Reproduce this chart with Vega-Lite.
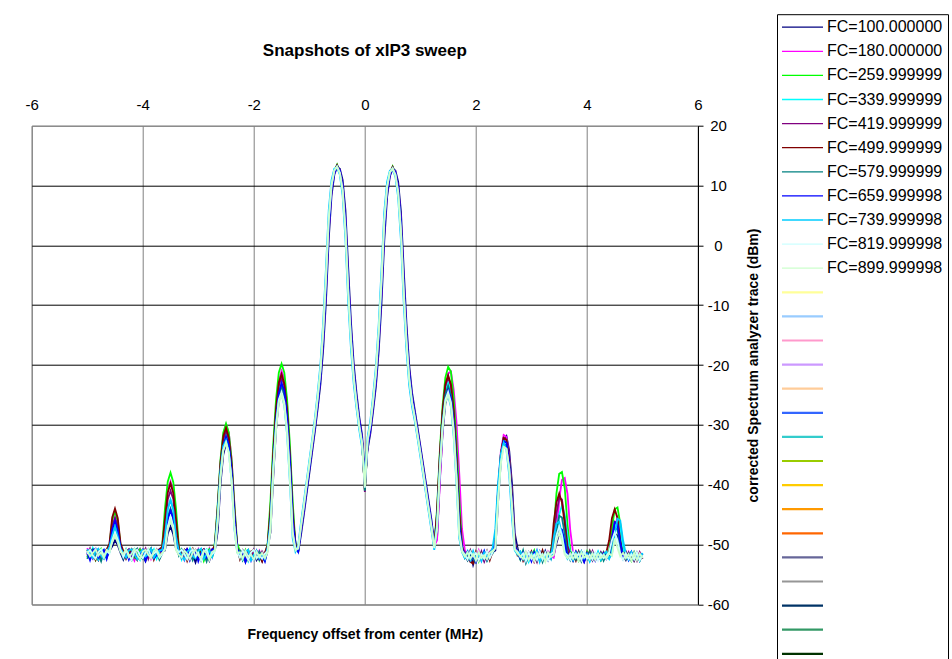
{
"$schema":"https://vega.github.io/schema/vega-lite/v6.json",
"width":666.3,"height":478.6,
"autosize":{"type":"none"},
"padding":{"left":31.7,"top":125.7,"right":254,"bottom":54.7},
"background":"white",
"config":{"view":{"stroke":"#808080","strokeWidth":1},"font":"Liberation Sans","axis":{"labelFont":"Liberation Sans","titleFont":"Liberation Sans","labelColor":"black","titleColor":"black"}},
"title":{"text":"Snapshots of xIP3 sweep","fontSize":17,"fontWeight":"bold","font":"Liberation Sans","color":"black","anchor":"middle","offset":-46.4},
"data":{"values":[
{"x":-5,"a":-51.4,"b":-50.6,"c":-52.1,"d":-51.0,"e":-51.8,"f":-50.9,"g":-52.4,"h":-51.3,"i":-50.8,"j":-51.6,"k":-51.1},
{"x":-4.95,"a":-52.3,"b":-51.7,"c":-50.8,"d":-52.0,"e":-50.7,"f":-51.9,"g":-51.2,"h":-52.6,"i":-51.5,"j":-50.9,"k":-52.0},
{"x":-4.9,"a":-50.9,"b":-52.4,"c":-51.5,"d":-50.6,"e":-52.2,"f":-51.3,"g":-50.8,"h":-51.0,"i":-52.3,"j":-51.8,"k":-51.4},
{"x":-4.85,"a":-51.8,"b":-51.1,"c":-52.6,"d":-51.7,"e":-51.2,"f":-52.5,"g":-52.0,"h":-50.7,"i":-51.1,"j":-52.4,"k":-50.8},
{"x":-4.8,"a":-52.6,"b":-50.8,"c":-51.2,"d":-52.5,"e":-50.9,"f":-51.0,"g":-51.6,"h":-52.2,"i":-50.7,"j":-51.3,"k":-51.9},
{"x":-4.75,"a":-51.0,"b":-52.0,"c":-50.7,"d":-51.3,"e":-52.5,"f":-51.7,"g":-52.8,"h":-51.5,"i":-51.9,"j":-50.8,"k":-51.3},
{"x":-4.7,"a":-51.7,"b":-51.4,"c":-51.9,"d":-50.9,"e":-51.4,"f":-52.3,"g":-51.1,"h":-50.9,"i":-52.4,"j":-51.9,"k":-52.2},
{"x":-4.65,"a":-52.2,"b":-51.0,"c":-51.0,"d":-52.1,"e":-50.8,"f":-50.8,"g":-51.7,"h":-52.4,"i":-51.2,"j":-51.1,"k":-50.9},
{"x":-4.6,"a":-51.1,"b":-50.5,"c":-50.2,"d":-50.7,"e":-50.5,"f":-49.9,"g":-51.3,"h":-50.6,"i":-50.4,"j":-51.5,"k":-51.2},
{"x":-4.55,"a":-50.3,"b":-47.5,"c":-46.0,"d":-48.0,"e":-47.0,"f":-45.5,"g":-48.5,"h":-47.5,"i":-48.5,"j":-49.3,"k":-49.6},
{"x":-4.5,"a":-49.3,"b":-46.0,"c":-44.5,"d":-46.5,"e":-45.5,"f":-44.0,"g":-47.0,"h":-46.0,"i":-47.0,"j":-48.0,"k":-48.5},
{"x":-4.45,"a":-50.1,"b":-47.4,"c":-46.1,"d":-48.1,"e":-46.9,"f":-45.6,"g":-48.4,"h":-47.6,"i":-48.6,"j":-49.2,"k":-49.7},
{"x":-4.4,"a":-51.4,"b":-50.6,"c":-50.1,"d":-50.9,"e":-50.3,"f":-49.8,"g":-51.0,"h":-50.4,"i":-50.7,"j":-50.9,"k":-51.3},
{"x":-4.35,"a":-52.5,"b":-51.6,"c":-51.3,"d":-51.8,"e":-52.0,"f":-51.1,"g":-52.3,"h":-51.9,"i":-51.4,"j":-52.1,"k":-51.6},
{"x":-4.3,"a":-51.2,"b":-52.3,"c":-52.0,"d":-50.8,"e":-51.3,"f":-52.4,"g":-50.9,"h":-51.0,"i":-52.2,"j":-51.0,"k":-50.8},
{"x":-4.25,"a":-50.8,"b":-51.0,"c":-51.4,"d":-52.3,"e":-50.9,"f":-51.5,"g":-51.8,"h":-52.5,"i":-51.0,"j":-51.7,"k":-52.1},
{"x":-4.2,"a":-52.0,"b":-51.8,"c":-50.9,"d":-51.4,"e":-52.3,"f":-50.8,"g":-52.6,"h":-51.3,"i":-50.8,"j":-52.6,"k":-51.5},
{"x":-4.15,"a":-51.6,"b":-52.7,"c":-52.2,"d":-50.7,"e":-51.6,"f":-51.9,"g":-51.2,"h":-50.8,"i":-51.7,"j":-51.2,"k":-50.7},
{"x":-4.1,"a":-52.4,"b":-51.2,"c":-51.6,"d":-51.9,"e":-50.8,"f":-52.6,"g":-50.7,"h":-52.1,"i":-52.5,"j":-50.9,"k":-51.8},
{"x":-4.05,"a":-51.0,"b":-50.7,"c":-50.8,"d":-52.6,"e":-52.0,"f":-51.3,"g":-51.9,"h":-51.6,"i":-51.3,"j":-51.8,"k":-52.4},
{"x":-4,"a":-51.9,"b":-52.1,"c":-51.8,"d":-51.2,"e":-51.5,"f":-50.9,"g":-52.4,"h":-50.9,"i":-50.9,"j":-52.3,"k":-51.2},
{"x":-3.95,"a":-52.8,"b":-51.5,"c":-52.5,"d":-50.9,"e":-50.7,"f":-52.2,"g":-51.4,"h":-52.7,"i":-52.0,"j":-51.4,"k":-50.9},
{"x":-3.9,"a":-51.3,"b":-50.9,"c":-51.1,"d":-52.1,"e":-52.4,"f":-51.6,"g":-50.8,"h":-51.5,"i":-51.6,"j":-50.8,"k":-51.7},
{"x":-3.85,"a":-50.7,"b":-52.4,"c":-50.7,"d":-51.6,"e":-51.1,"f":-50.7,"g":-52.1,"h":-51.0,"i":-50.7,"j":-52.0,"k":-52.3},
{"x":-3.8,"a":-52.1,"b":-51.3,"c":-52.0,"d":-50.8,"e":-51.9,"f":-52.5,"g":-51.6,"h":-52.3,"i":-52.2,"j":-51.5,"k":-51.1},
{"x":-3.75,"a":-51.5,"b":-50.8,"c":-51.4,"d":-52.4,"e":-50.9,"f":-51.2,"g":-51.0,"h":-51.8,"i":-51.4,"j":-51.1,"k":-50.8},
{"x":-3.7,"a":-52.3,"b":-51.9,"c":-52.3,"d":-51.3,"e":-52.2,"f":-50.8,"g":-52.5,"h":-50.9,"i":-51.0,"j":-52.2,"k":-51.9},
{"x":-3.65,"a":-51.3,"b":-50.6,"c":-50.2,"d":-51.0,"e":-50.8,"f":-50.4,"g":-51.5,"h":-51.2,"i":-50.9,"j":-51.6,"k":-51.4},
{"x":-3.6,"a":-51.0,"b":-45.5,"c":-44.0,"d":-48.5,"e":-47.0,"f":-45.8,"g":-49.6,"h":-49.8,"i":-48.6,"j":-50.6,"k":-50.9},
{"x":-3.55,"a":-48.2,"b":-41.0,"c":-39.5,"d":-44.0,"e":-42.5,"f":-41.3,"g":-45.5,"h":-45.8,"i":-44.1,"j":-47.0,"k":-47.5},
{"x":-3.5,"a":-47.0,"b":-39.5,"c":-38.0,"d":-42.5,"e":-41.0,"f":-39.8,"g":-44.0,"h":-44.3,"i":-42.6,"j":-45.5,"k":-46.0},
{"x":-3.45,"a":-48.3,"b":-41.0,"c":-39.6,"d":-44.1,"e":-42.4,"f":-41.4,"g":-45.6,"h":-45.7,"i":-44.2,"j":-46.9,"k":-47.4},
{"x":-3.4,"a":-50.8,"b":-45.6,"c":-44.1,"d":-48.4,"e":-47.1,"f":-45.9,"g":-49.7,"h":-49.9,"i":-48.7,"j":-50.7,"k":-51.0},
{"x":-3.35,"a":-51.6,"b":-50.8,"c":-50.4,"d":-51.2,"e":-50.9,"f":-50.6,"g":-51.8,"h":-51.4,"i":-51.1,"j":-51.3,"k":-51.7},
{"x":-3.3,"a":-52.0,"b":-51.4,"c":-51.9,"d":-52.5,"e":-51.3,"f":-52.1,"g":-50.8,"h":-52.2,"i":-51.8,"j":-50.9,"k":-52.2},
{"x":-3.25,"a":-51.1,"b":-52.6,"c":-51.0,"d":-51.0,"e":-52.4,"f":-51.0,"g":-51.7,"h":-51.1,"i":-52.6,"j":-51.6,"k":-51.0},
{"x":-3.2,"a":-50.8,"b":-51.1,"c":-52.4,"d":-51.8,"e":-50.8,"f":-52.7,"g":-52.3,"h":-50.8,"i":-51.2,"j":-52.5,"k":-51.6},
{"x":-3.15,"a":-52.5,"b":-50.9,"c":-51.3,"d":-50.7,"e":-51.7,"f":-51.4,"g":-51.1,"h":-52.6,"i":-50.8,"j":-51.3,"k":-52.5},
{"x":-3.1,"a":-51.7,"b":-52.2,"c":-50.8,"d":-52.2,"e":-52.1,"f":-50.7,"g":-52.6,"h":-51.4,"i":-51.9,"j":-50.8,"k":-51.3},
{"x":-3.05,"a":-53.0,"b":-51.7,"c":-52.1,"d":-51.5,"e":-50.9,"f":-51.8,"g":-51.4,"h":-51.0,"i":-52.3,"j":-52.0,"k":-50.9},
{"x":-3,"a":-51.4,"b":-50.8,"c":-51.6,"d":-50.9,"e":-51.4,"f":-52.3,"g":-50.9,"h":-52.8,"i":-51.1,"j":-51.4,"k":-51.8},
{"x":-2.95,"a":-50.9,"b":-52.5,"c":-50.9,"d":-52.6,"e":-52.6,"f":-51.1,"g":-52.0,"h":-51.5,"i":-50.7,"j":-52.7,"k":-52.2},
{"x":-2.9,"a":-52.2,"b":-51.3,"c":-52.7,"d":-51.2,"e":-51.0,"f":-50.8,"g":-51.5,"h":-50.9,"i":-52.4,"j":-51.1,"k":-51.0},
{"x":-2.85,"a":-51.5,"b":-51.9,"c":-51.4,"d":-50.8,"e":-52.2,"f":-52.5,"g":-52.8,"h":-52.2,"i":-51.6,"j":-50.9,"k":-51.5},
{"x":-2.8,"a":-52.7,"b":-50.7,"c":-50.8,"d":-52.3,"e":-51.5,"f":-51.6,"g":-51.2,"h":-51.7,"i":-51.0,"j":-52.1,"k":-52.6},
{"x":-2.75,"a":-51.2,"b":-52.0,"c":-52.2,"d":-51.4,"e":-50.8,"f":-51.0,"g":-51.9,"h":-50.8,"i":-52.1,"j":-51.6,"k":-51.2},
{"x":-2.7,"a":-51.0,"b":-50.0,"c":-49.6,"d":-50.5,"e":-50.4,"f":-50.1,"g":-50.8,"h":-50.9,"i":-50.6,"j":-51.2,"k":-51.0},
{"x":-2.65,"a":-47.8,"b":-43.9,"c":-43.3,"d":-44.6,"e":-44.5,"f":-43.8,"g":-45.5,"h":-45.9,"i":-44.7,"j":-46.1,"k":-46.1},
{"x":-2.6,"a":-39.9,"b":-36.3,"c":-35.8,"d":-37.2,"e":-37.0,"f":-36.4,"g":-38.0,"h":-38.3,"i":-37.6,"j":-38.7,"k":-38.7},
{"x":-2.55,"a":-35.0,"b":-31.7,"c":-31.3,"d":-32.8,"e":-32.5,"f":-31.9,"g":-33.5,"h":-33.7,"i":-33.6,"j":-34.3,"k":-34.3},
{"x":-2.5,"a":-33.1,"b":-30.0,"c":-29.8,"d":-31.5,"e":-31.0,"f":-30.5,"g":-32.0,"h":-32.0,"i":-32.6,"j":-33.0,"k":-33.0},
{"x":-2.45,"a":-34.1,"b":-31.3,"c":-31.3,"d":-33.2,"e":-32.5,"f":-32.1,"g":-33.5,"h":-33.3,"i":-34.5,"j":-34.7,"k":-34.7},
{"x":-2.4,"a":-38.1,"b":-35.7,"c":-35.8,"d":-37.8,"e":-37.0,"f":-36.6,"g":-38.0,"h":-37.7,"i":-39.4,"j":-39.3,"k":-39.3},
{"x":-2.35,"a":-45.2,"b":-43.1,"c":-43.3,"d":-45.4,"e":-44.5,"f":-44.2,"g":-45.5,"h":-45.1,"i":-47.3,"j":-46.9,"k":-46.9},
{"x":-2.3,"a":-50.2,"b":-50.5,"c":-49.8,"d":-50.9,"e":-50.6,"f":-50.4,"g":-51.2,"h":-50.6,"i":-51.3,"j":-51.1,"k":-51.4},
{"x":-2.25,"a":-52.1,"b":-51.6,"c":-51.2,"d":-52.3,"e":-51.9,"f":-52.4,"g":-51.0,"h":-52.0,"i":-51.5,"j":-52.2,"k":-51.3},
{"x":-2.2,"a":-51.3,"b":-52.4,"c":-52.5,"d":-51.0,"e":-51.1,"f":-51.0,"g":-52.6,"h":-51.2,"i":-52.5,"j":-51.0,"k":-52.4},
{"x":-2.15,"a":-52.9,"b":-51.0,"c":-51.0,"d":-51.7,"e":-52.6,"f":-51.8,"g":-51.5,"h":-52.9,"i":-51.2,"j":-51.7,"k":-51.1},
{"x":-2.1,"a":-51.6,"b":-51.8,"c":-52.3,"d":-52.8,"e":-51.4,"f":-52.6,"g":-50.9,"h":-51.5,"i":-50.9,"j":-52.6,"k":-52.0},
{"x":-2.05,"a":-52.4,"b":-52.7,"c":-51.6,"d":-51.3,"e":-52.2,"f":-51.2,"g":-52.3,"h":-51.9,"i":-52.7,"j":-51.3,"k":-51.7},
{"x":-2,"a":-51.0,"b":-51.3,"c":-52.0,"d":-52.1,"e":-50.9,"f":-50.9,"g":-51.7,"h":-52.6,"i":-51.8,"j":-50.9,"k":-52.6},
{"x":-1.95,"a":-52.6,"b":-52.2,"c":-51.2,"d":-51.1,"e":-51.8,"f":-52.3,"g":-52.4,"h":-51.1,"i":-51.1,"j":-52.3,"k":-51.2},
{"x":-1.9,"a":-51.9,"b":-51.1,"c":-52.6,"d":-52.5,"e":-52.5,"f":-51.6,"g":-51.2,"h":-52.4,"i":-52.3,"j":-51.8,"k":-52.1},
{"x":-1.85,"a":-52.8,"b":-52.5,"c":-51.4,"d":-51.6,"e":-51.2,"f":-52.8,"g":-52.0,"h":-51.7,"i":-51.6,"j":-52.4,"k":-51.4},
{"x":-1.8,"a":-51.4,"b":-51.6,"c":-52.1,"d":-52.2,"e":-52.0,"f":-51.4,"g":-52.7,"h":-52.8,"i":-52.4,"j":-51.5,"k":-52.3},
{"x":-1.75,"a":-50.6,"b":-50.0,"c":-49.7,"d":-50.5,"e":-50.3,"f":-50.1,"g":-51.0,"h":-50.8,"i":-50.4,"j":-51.1,"k":-51.3},
{"x":-1.7,"a":-48.0,"b":-44.0,"c":-42.8,"d":-45.6,"e":-45.0,"f":-44.3,"g":-46.5,"h":-46.3,"i":-46.5,"j":-47.2,"k":-47.6},
{"x":-1.65,"a":-38.8,"b":-34.9,"c":-33.3,"d":-36.1,"e":-35.5,"f":-34.8,"g":-37.0,"h":-36.9,"i":-37.0,"j":-37.6,"k":-38.1},
{"x":-1.6,"a":-30.9,"b":-27.3,"c":-25.8,"d":-28.8,"e":-28.0,"f":-27.4,"g":-29.5,"h":-29.3,"i":-29.9,"j":-30.3,"k":-30.8},
{"x":-1.55,"a":-26.0,"b":-22.7,"c":-21.3,"d":-24.3,"e":-23.5,"f":-22.9,"g":-25.0,"h":-24.7,"i":-25.9,"j":-25.8,"k":-26.3},
{"x":-1.5,"a":-24.1,"b":-21.0,"c":-19.8,"d":-23.0,"e":-22.0,"f":-21.5,"g":-23.5,"h":-23.0,"i":-24.9,"j":-24.5,"k":-25.0},
{"x":-1.45,"a":-25.1,"b":-22.3,"c":-21.3,"d":-24.7,"e":-23.5,"f":-23.1,"g":-25.0,"h":-24.3,"i":-26.8,"j":-26.2,"k":-26.7},
{"x":-1.4,"a":-29.1,"b":-26.7,"c":-25.8,"d":-29.2,"e":-28.0,"f":-27.6,"g":-29.5,"h":-28.7,"i":-31.7,"j":-30.7,"k":-31.2},
{"x":-1.35,"a":-36.2,"b":-34.1,"c":-33.3,"d":-36.9,"e":-35.5,"f":-35.2,"g":-37.0,"h":-36.1,"i":-39.6,"j":-38.4,"k":-38.9},
{"x":-1.3,"a":-45.6,"b":-43.6,"c":-42.8,"d":-46.4,"e":-45.0,"f":-44.7,"g":-46.5,"h":-45.7,"i":-49.0,"j":-47.8,"k":-48.2},
{"x":-1.25,"a":-49.6,"b":-50.2,"c":-50.0,"d":-50.8,"e":-50.4,"f":-50.1,"g":-50.9,"h":-50.3,"i":-51.2,"j":-50.7,"k":-51.0},
{"x":-1.2,"a":-51.3,"b":-50.9,"c":-50.6,"d":-50.8,"e":-51.0,"f":-50.7,"g":-51.1,"h":-51.2,"i":-50.2,"j":-50.7,"k":-50.6},
{"x":-1.15,"a":-48.4,"b":-47.7,"c":-47.3,"d":-47.0,"e":-47.2,"f":-47.1,"g":-47.4,"h":-47.6,"i":-46.3,"j":-46.9,"k":-47.0},
{"x":-1.1,"a":-45.1,"b":-44.4,"c":-44.0,"d":-43.6,"e":-44.1,"f":-43.8,"g":-43.9,"h":-44.3,"i":-42.9,"j":-43.7,"k":-43.6},
{"x":-1.05,"a":-41.6,"b":-40.8,"c":-40.4,"d":-40.2,"e":-40.5,"f":-40.3,"g":-40.6,"h":-40.9,"i":-39.5,"j":-40.1,"k":-40.2},
{"x":-1,"a":-38.1,"b":-37.3,"c":-36.9,"d":-36.6,"e":-37.0,"f":-36.8,"g":-37.1,"h":-37.4,"i":-36.0,"j":-36.7,"k":-36.6},
{"x":-0.95,"a":-34.6,"b":-33.9,"c":-33.4,"d":-33.2,"e":-33.5,"f":-33.3,"g":-33.6,"h":-33.8,"i":-32.5,"j":-33.1,"k":-33.2},
{"x":-0.9,"a":-31.1,"b":-30.4,"c":-29.9,"d":-29.6,"e":-30.0,"f":-29.8,"g":-30.1,"h":-30.4,"i":-28.9,"j":-29.6,"k":-29.7},
{"x":-0.85,"a":-27.3,"b":-26.4,"c":-25.9,"d":-25.6,"e":-26.0,"f":-25.8,"g":-26.1,"h":-26.5,"i":-24.7,"j":-25.6,"k":-25.5},
{"x":-0.8,"a":-23.2,"b":-22.0,"c":-21.4,"d":-21.0,"e":-21.5,"f":-21.2,"g":-21.6,"h":-22.1,"i":-19.9,"j":-20.9,"k":-21.0},
{"x":-0.75,"a":-17.3,"b":-15.8,"c":-14.9,"d":-14.3,"e":-15.0,"f":-14.6,"g":-15.1,"h":-15.7,"i":-12.8,"j":-14.2,"k":-14.3},
{"x":-0.7,"a":-9.3,"b":-7.4,"c":-6.4,"d":-5.6,"e":-6.5,"f":-6.0,"g":-6.6,"h":-7.4,"i":-3.8,"j":-5.6,"k":-5.5},
{"x":-0.65,"a":1.1,"b":2.7,"c":3.6,"d":4.3,"e":3.5,"f":3.9,"g":3.4,"h":2.7,"i":5.9,"j":4.3,"k":4.4},
{"x":-0.6,"a":8.3,"b":9.2,"c":9.7,"d":10.0,"e":9.6,"f":9.8,"g":9.5,"h":9.2,"i":10.9,"j":10.0,"k":10.1},
{"x":-0.55,"a":11.8,"b":12.1,"c":12.4,"d":12.5,"e":12.3,"f":12.4,"g":12.3,"h":12.1,"i":12.8,"j":12.5,"k":12.5},
{"x":-0.5,"a":13.1,"b":13.3,"c":13.5,"d":13.2,"e":13.3,"f":13.4,"g":13.2,"h":13.2,"i":13.0,"j":13.2,"k":13.1},
{"x":-0.45,"a":12.8,"b":12.5,"c":12.3,"d":12.1,"e":12.3,"f":12.2,"g":12.3,"h":12.5,"i":11.8,"j":12.1,"k":12.1},
{"x":-0.4,"a":10.9,"b":10.0,"c":9.6,"d":9.2,"e":9.6,"f":9.4,"g":9.6,"h":10.0,"i":8.3,"j":9.2,"k":9.2},
{"x":-0.35,"a":5.9,"b":4.3,"c":3.5,"d":2.7,"e":3.5,"f":3.1,"g":3.5,"h":4.3,"i":1.1,"j":2.7,"k":2.7},
{"x":-0.3,"a":-3.7,"b":-5.6,"c":-6.5,"d":-7.4,"e":-6.5,"f":-7.0,"g":-6.5,"h":-5.6,"i":-9.3,"j":-7.4,"k":-7.4},
{"x":-0.25,"a":-12.8,"b":-14.3,"c":-15.0,"d":-15.8,"e":-15.0,"f":-15.4,"g":-15.0,"h":-14.3,"i":-17.3,"j":-15.8,"k":-15.8},
{"x":-0.2,"a":-19.9,"b":-21.0,"c":-21.5,"d":-22.1,"e":-21.5,"f":-21.8,"g":-21.5,"h":-21.0,"i":-23.2,"j":-22.0,"k":-22.1},
{"x":-0.15,"a":-24.7,"b":-25.6,"c":-26.0,"d":-26.4,"e":-26.0,"f":-26.2,"g":-26.0,"h":-25.6,"i":-27.3,"j":-26.4,"k":-26.4},
{"x":-0.1,"a":-28.7,"b":-29.4,"c":-29.8,"d":-30.2,"e":-29.8,"f":-30.0,"g":-29.8,"h":-29.4,"i":-30.9,"j":-30.2,"k":-30.2},
{"x":-0.05,"a":-31.7,"b":-32.4,"c":-32.7,"d":-33.1,"e":-32.7,"f":-32.9,"g":-32.7,"h":-32.4,"i":-33.8,"j":-33.1,"k":-33.0},
{"x":0,"a":-38.5,"b":-40.0,"c":-41.0,"d":-40.5,"e":-41.2,"f":-40.8,"g":-41.0,"h":-40.0,"i":-38.8,"j":-40.5,"k":-40.3},
{"x":0.05,"a":-34.1,"b":-33.4,"c":-33.0,"d":-32.7,"e":-33.0,"f":-32.8,"g":-33.0,"h":-33.4,"i":-32.0,"j":-32.7,"k":-32.6},
{"x":0.1,"a":-31.4,"b":-30.7,"c":-30.3,"d":-29.9,"e":-30.3,"f":-30.1,"g":-30.3,"h":-30.7,"i":-29.2,"j":-29.9,"k":-29.9},
{"x":0.15,"a":-27.6,"b":-26.7,"c":-26.3,"d":-25.9,"e":-26.3,"f":-26.1,"g":-26.3,"h":-26.7,"i":-25.0,"j":-25.9,"k":-25.9},
{"x":0.2,"a":-23.5,"b":-22.4,"c":-21.8,"d":-21.3,"e":-21.8,"f":-21.5,"g":-21.8,"h":-22.4,"i":-20.2,"j":-21.3,"k":-21.2},
{"x":0.25,"a":-17.6,"b":-16.1,"c":-15.3,"d":-14.6,"e":-15.3,"f":-14.9,"g":-15.3,"h":-16.0,"i":-13.1,"j":-14.5,"k":-14.6},
{"x":0.3,"a":-9.6,"b":-7.7,"c":-6.8,"d":-5.9,"e":-6.8,"f":-6.3,"g":-6.8,"h":-7.7,"i":-4.0,"j":-5.9,"k":-5.9},
{"x":0.35,"a":0.8,"b":2.4,"c":3.2,"d":4.0,"e":3.2,"f":3.6,"g":3.2,"h":2.4,"i":5.6,"j":4.0,"k":4.0},
{"x":0.4,"a":8.0,"b":8.9,"c":9.3,"d":9.7,"e":9.3,"f":9.5,"g":9.3,"h":8.9,"i":10.6,"j":9.7,"k":9.7},
{"x":0.45,"a":11.5,"b":11.8,"c":12.0,"d":12.2,"e":12.0,"f":12.1,"g":12.0,"h":11.8,"i":12.5,"j":12.2,"k":12.2},
{"x":0.5,"a":12.8,"b":13.0,"c":13.2,"d":12.9,"e":13.0,"f":13.1,"g":12.9,"h":12.9,"i":12.7,"j":12.9,"k":12.8},
{"x":0.55,"a":12.5,"b":12.2,"c":12.0,"d":11.8,"e":12.0,"f":11.9,"g":12.0,"h":12.2,"i":11.5,"j":11.8,"k":11.8},
{"x":0.6,"a":10.6,"b":9.7,"c":9.3,"d":8.9,"e":9.3,"f":9.1,"g":9.3,"h":9.7,"i":8.0,"j":8.9,"k":8.9},
{"x":0.65,"a":5.6,"b":4.0,"c":3.2,"d":2.4,"e":3.2,"f":2.8,"g":3.2,"h":4.0,"i":0.8,"j":2.4,"k":2.4},
{"x":0.7,"a":-4.0,"b":-5.9,"c":-6.8,"d":-7.7,"e":-6.8,"f":-7.3,"g":-6.8,"h":-5.9,"i":-9.6,"j":-7.7,"k":-7.7},
{"x":0.75,"a":-13.1,"b":-14.6,"c":-15.3,"d":-16.1,"e":-15.3,"f":-15.7,"g":-15.3,"h":-14.6,"i":-17.6,"j":-16.1,"k":-16.0},
{"x":0.8,"a":-20.2,"b":-21.3,"c":-21.8,"d":-22.4,"e":-21.8,"f":-22.1,"g":-21.8,"h":-21.3,"i":-23.5,"j":-22.4,"k":-22.3},
{"x":0.85,"a":-24.6,"b":-25.4,"c":-25.8,"d":-26.2,"e":-25.8,"f":-26.0,"g":-25.8,"h":-25.4,"i":-27.0,"j":-26.2,"k":-26.2},
{"x":0.9,"a":-27.6,"b":-28.2,"c":-28.5,"d":-28.8,"e":-28.5,"f":-28.7,"g":-28.5,"h":-28.2,"i":-29.4,"j":-28.8,"k":-28.8},
{"x":0.95,"a":-30.5,"b":-31.1,"c":-31.4,"d":-31.7,"e":-31.4,"f":-31.6,"g":-31.4,"h":-31.1,"i":-32.3,"j":-31.7,"k":-31.7},
{"x":1,"a":-33.5,"b":-34.1,"c":-34.4,"d":-34.7,"e":-34.4,"f":-34.6,"g":-34.4,"h":-34.1,"i":-35.3,"j":-34.7,"k":-34.7},
{"x":1.05,"a":-36.6,"b":-37.2,"c":-37.5,"d":-37.8,"e":-37.5,"f":-37.7,"g":-37.5,"h":-37.2,"i":-38.4,"j":-37.8,"k":-37.8},
{"x":1.1,"a":-39.7,"b":-40.3,"c":-40.6,"d":-40.9,"e":-40.6,"f":-40.8,"g":-40.6,"h":-40.3,"i":-41.5,"j":-40.9,"k":-40.9},
{"x":1.15,"a":-42.8,"b":-43.4,"c":-43.7,"d":-44.0,"e":-43.7,"f":-43.9,"g":-43.7,"h":-43.4,"i":-44.6,"j":-44.0,"k":-44.0},
{"x":1.2,"a":-45.9,"b":-46.5,"c":-46.8,"d":-47.1,"e":-46.8,"f":-47.0,"g":-46.8,"h":-46.5,"i":-47.7,"j":-47.1,"k":-47.1},
{"x":1.25,"a":-49.8,"b":-50.2,"c":-50.4,"d":-50.6,"e":-50.3,"f":-50.5,"g":-50.4,"h":-50.1,"i":-50.9,"j":-50.6,"k":-50.5},
{"x":1.3,"a":-49.0,"b":-49.3,"c":-44.1,"d":-46.0,"e":-45.0,"f":-44.7,"g":-46.5,"h":-47.7,"i":-46.6,"j":-47.1,"k":-47.6},
{"x":1.35,"a":-39.3,"b":-39.8,"c":-34.5,"d":-36.1,"e":-35.5,"f":-35.2,"g":-37.0,"h":-38.1,"i":-37.2,"j":-37.6,"k":-38.1},
{"x":1.4,"a":-31.4,"b":-31.0,"c":-26.8,"d":-28.7,"e":-28.0,"f":-27.7,"g":-29.5,"h":-30.5,"i":-30.1,"j":-30.2,"k":-30.7},
{"x":1.45,"a":-26.5,"b":-24.8,"c":-22.1,"d":-24.3,"e":-23.5,"f":-23.2,"g":-25.0,"h":-25.9,"i":-26.0,"j":-25.8,"k":-26.3},
{"x":1.5,"a":-24.6,"b":-21.4,"c":-20.3,"d":-23.0,"e":-22.0,"f":-21.7,"g":-23.5,"h":-24.2,"i":-25.1,"j":-24.5,"k":-25.0},
{"x":1.55,"a":-25.5,"b":-21.1,"c":-21.1,"d":-24.7,"e":-23.5,"f":-23.2,"g":-25.0,"h":-25.5,"i":-27.0,"j":-26.2,"k":-26.7},
{"x":1.6,"a":-29.6,"b":-24.1,"c":-25.6,"d":-29.3,"e":-28.0,"f":-27.7,"g":-29.5,"h":-29.9,"i":-31.9,"j":-30.8,"k":-31.3},
{"x":1.65,"a":-36.7,"b":-29.5,"c":-32.9,"d":-36.9,"e":-35.5,"f":-35.2,"g":-37.0,"h":-37.3,"i":-39.8,"j":-38.4,"k":-38.9},
{"x":1.7,"a":-46.1,"b":-38.1,"c":-42.3,"d":-46.4,"e":-45.0,"f":-44.7,"g":-46.5,"h":-46.7,"i":-49.0,"j":-47.9,"k":-48.4},
{"x":1.75,"a":-50.0,"b":-47.4,"c":-50.3,"d":-50.9,"e":-50.6,"f":-50.4,"g":-51.0,"h":-50.7,"i":-51.3,"j":-51.0,"k":-51.2},
{"x":1.8,"a":-51.8,"b":-50.9,"c":-51.6,"d":-52.0,"e":-51.3,"f":-52.2,"g":-51.5,"h":-51.9,"i":-52.3,"j":-51.7,"k":-52.0},
{"x":1.85,"a":-52.6,"b":-51.8,"c":-52.4,"d":-51.1,"e":-52.5,"f":-51.4,"g":-52.6,"h":-51.2,"i":-51.4,"j":-52.5,"k":-51.3},
{"x":1.9,"a":-51.3,"b":-52.5,"c":-51.1,"d":-52.7,"e":-51.0,"f":-52.9,"g":-51.2,"h":-52.6,"i":-52.6,"j":-51.2,"k":-52.4},
{"x":1.95,"a":-53.4,"b":-51.4,"c":-52.2,"d":-51.6,"e":-52.3,"f":-53.2,"g":-52.4,"h":-51.8,"i":-51.1,"j":-52.0,"k":-51.6},
{"x":2,"a":-51.9,"b":-52.2,"c":-51.5,"d":-52.3,"e":-51.7,"f":-51.3,"g":-53.0,"h":-52.9,"i":-52.4,"j":-51.4,"k":-52.7},
{"x":2.05,"a":-52.4,"b":-51.0,"c":-52.8,"d":-51.4,"e":-52.6,"f":-52.6,"g":-51.7,"h":-51.5,"i":-51.7,"j":-52.7,"k":-51.2},
{"x":2.1,"a":-51.5,"b":-52.7,"c":-51.3,"d":-52.5,"e":-51.2,"f":-51.5,"g":-52.2,"h":-52.4,"i":-52.8,"j":-51.6,"k":-52.3},
{"x":2.15,"a":-52.7,"b":-51.6,"c":-52.0,"d":-51.2,"e":-52.8,"f":-52.4,"g":-51.3,"h":-51.1,"i":-51.3,"j":-52.4,"k":-51.8},
{"x":2.2,"a":-51.2,"b":-52.3,"c":-52.6,"d":-52.4,"e":-51.5,"f":-51.1,"g":-52.7,"h":-52.5,"i":-52.0,"j":-51.1,"k":-52.5},
{"x":2.25,"a":-52.3,"b":-51.2,"c":-51.4,"d":-51.7,"e":-52.2,"f":-52.6,"g":-51.6,"h":-51.6,"i":-51.6,"j":-52.3,"k":-51.4},
{"x":2.3,"a":-51.3,"b":-50.8,"c":-50.9,"d":-51.0,"e":-50.7,"f":-51.2,"g":-51.5,"h":-50.9,"i":-50.6,"j":-51.3,"k":-51.1},
{"x":2.35,"a":-51.0,"b":-48.8,"c":-49.3,"d":-49.8,"e":-49.3,"f":-49.3,"g":-50.3,"h":-49.8,"i":-47.4,"j":-50.6,"k":-50.6},
{"x":2.4,"a":-42.8,"b":-40.5,"c":-41.0,"d":-41.5,"e":-41.0,"f":-41.0,"g":-42.0,"h":-41.5,"i":-39.6,"j":-42.5,"k":-42.5},
{"x":2.45,"a":-36.1,"b":-34.4,"c":-34.9,"d":-35.4,"e":-34.9,"f":-34.9,"g":-35.9,"h":-35.4,"i":-34.8,"j":-36.4,"k":-36.4},
{"x":2.5,"a":-32.5,"b":-31.7,"c":-32.2,"d":-32.7,"e":-32.2,"f":-32.2,"g":-33.2,"h":-32.7,"i":-33.0,"j":-33.7,"k":-33.7},
{"x":2.55,"a":-31.9,"b":-32.0,"c":-32.5,"d":-33.0,"e":-32.5,"f":-32.5,"g":-33.5,"h":-33.0,"i":-34.2,"j":-34.0,"k":-34.0},
{"x":2.6,"a":-34.3,"b":-35.3,"c":-35.8,"d":-36.3,"e":-35.8,"f":-35.8,"g":-36.8,"h":-36.3,"i":-38.4,"j":-37.3,"k":-37.3},
{"x":2.65,"a":-39.8,"b":-41.7,"c":-42.2,"d":-42.7,"e":-42.2,"f":-42.2,"g":-43.2,"h":-42.7,"i":-45.6,"j":-43.7,"k":-43.7},
{"x":2.7,"a":-48.1,"b":-49.5,"c":-49.8,"d":-50.3,"e":-49.8,"f":-49.8,"g":-50.6,"h":-50.3,"i":-51.0,"j":-50.8,"k":-50.8},
{"x":2.75,"a":-50.6,"b":-51.4,"c":-51.0,"d":-51.6,"e":-51.2,"f":-51.8,"g":-51.3,"h":-51.1,"i":-51.7,"j":-51.2,"k":-51.5},
{"x":2.8,"a":-52.2,"b":-51.9,"c":-52.4,"d":-51.2,"e":-52.0,"f":-51.3,"g":-52.5,"h":-52.3,"i":-51.2,"j":-52.1,"k":-51.9},
{"x":2.85,"a":-51.4,"b":-52.6,"c":-51.2,"d":-52.5,"e":-51.4,"f":-52.7,"g":-51.0,"h":-51.4,"i":-52.5,"j":-51.5,"k":-52.4},
{"x":2.9,"a":-52.9,"b":-51.3,"c":-52.6,"d":-51.7,"e":-52.7,"f":-51.6,"g":-53.1,"h":-52.7,"i":-51.8,"j":-52.8,"k":-51.2},
{"x":2.95,"a":-51.7,"b":-52.2,"c":-51.5,"d":-52.9,"e":-51.3,"f":-52.2,"g":-51.8,"h":-51.6,"i":-52.7,"j":-51.3,"k":-52.6},
{"x":3,"a":-52.5,"b":-51.5,"c":-52.1,"d":-51.4,"e":-52.4,"f":-51.2,"g":-52.3,"h":-52.8,"i":-51.4,"j":-52.4,"k":-51.7},
{"x":3.05,"a":-51.2,"b":-52.8,"c":-51.0,"d":-52.2,"e":-51.6,"f":-52.8,"g":-51.5,"h":-51.3,"i":-52.2,"j":-51.7,"k":-52.8},
{"x":3.1,"a":-52.3,"b":-51.1,"c":-52.7,"d":-51.3,"e":-52.9,"f":-51.5,"g":-52.6,"h":-52.5,"i":-51.0,"j":-52.6,"k":-51.4},
{"x":3.15,"a":-51.8,"b":-52.4,"c":-51.6,"d":-52.6,"e":-51.2,"f":-52.4,"g":-51.4,"h":-51.2,"i":-52.9,"j":-51.2,"k":-52.2},
{"x":3.2,"a":-52.6,"b":-51.7,"c":-52.3,"d":-51.1,"e":-52.3,"f":-51.0,"g":-52.9,"h":-52.4,"i":-51.6,"j":-52.5,"k":-51.6},
{"x":3.25,"a":-51.1,"b":-52.5,"c":-51.4,"d":-52.4,"e":-51.7,"f":-52.5,"g":-51.6,"h":-51.5,"i":-52.3,"j":-51.4,"k":-52.9},
{"x":3.3,"a":-52.4,"b":-51.2,"c":-52.5,"d":-51.8,"e":-52.6,"f":-51.7,"g":-52.2,"h":-52.6,"i":-51.5,"j":-52.7,"k":-51.3},
{"x":3.35,"a":-51.6,"b":-52.0,"c":-51.2,"d":-52.3,"e":-51.0,"f":-52.3,"g":-51.3,"h":-51.7,"i":-52.4,"j":-51.6,"k":-52.1},
{"x":3.4,"a":-51.9,"b":-52.2,"c":-47.9,"d":-51.5,"e":-49.5,"f":-46.5,"g":-50.5,"h":-51.2,"i":-49.0,"j":-51.3,"k":-51.8},
{"x":3.45,"a":-49.8,"b":-48.9,"c":-41.5,"d":-48.5,"e":-44.9,"f":-43.0,"g":-47.9,"h":-49.0,"i":-46.5,"j":-48.5,"k":-49.4},
{"x":3.5,"a":-48.2,"b":-42.5,"c":-38.2,"d":-45.0,"e":-42.2,"f":-41.5,"g":-45.2,"h":-47.2,"i":-46.2,"j":-47.0,"k":-48.0},
{"x":3.55,"a":-48.5,"b":-39.2,"c":-37.9,"d":-43.5,"e":-42.5,"f":-43.0,"g":-45.5,"h":-47.5,"i":-48.3,"j":-48.5,"k":-49.4},
{"x":3.6,"a":-50.4,"b":-38.9,"c":-40.6,"d":-45.0,"e":-45.8,"f":-46.6,"g":-48.2,"h":-49.6,"i":-51.2,"j":-51.4,"k":-51.7},
{"x":3.65,"a":-52.1,"b":-41.6,"c":-46.7,"d":-48.6,"e":-50.2,"f":-51.0,"g":-51.5,"h":-52.0,"i":-52.4,"j":-51.8,"k":-52.3},
{"x":3.7,"a":-51.4,"b":-47.7,"c":-51.0,"d":-51.7,"e":-51.6,"f":-52.4,"g":-52.6,"h":-51.4,"i":-51.7,"j":-52.5,"k":-51.5},
{"x":3.75,"a":-52.7,"b":-51.3,"c":-52.2,"d":-52.5,"e":-52.3,"f":-51.5,"g":-51.4,"h":-52.6,"i":-52.6,"j":-51.3,"k":-52.4},
{"x":3.8,"a":-51.5,"b":-52.4,"c":-51.3,"d":-51.4,"e":-51.2,"f":-52.7,"g":-52.5,"h":-51.3,"i":-51.4,"j":-52.2,"k":-51.6},
{"x":3.85,"a":-52.3,"b":-51.2,"c":-52.7,"d":-52.6,"e":-52.6,"f":-51.2,"g":-51.3,"h":-52.4,"i":-52.5,"j":-51.5,"k":-52.7},
{"x":3.9,"a":-51.2,"b":-52.6,"c":-51.6,"d":-51.3,"e":-51.5,"f":-52.5,"g":-52.8,"h":-51.7,"i":-51.2,"j":-52.6,"k":-51.3},
{"x":3.95,"a":-52.8,"b":-51.5,"c":-52.4,"d":-52.2,"e":-52.8,"f":-51.6,"g":-51.6,"h":-52.9,"i":-52.3,"j":-51.2,"k":-52.2},
{"x":4,"a":-51.6,"b":-52.3,"c":-51.2,"d":-51.6,"e":-51.4,"f":-52.3,"g":-52.4,"h":-51.5,"i":-51.6,"j":-52.4,"k":-51.8},
{"x":4.05,"a":-52.5,"b":-51.4,"c":-52.5,"d":-52.8,"e":-52.3,"f":-51.1,"g":-51.2,"h":-52.2,"i":-52.8,"j":-51.7,"k":-52.5},
{"x":4.1,"a":-51.3,"b":-52.7,"c":-51.4,"d":-51.5,"e":-51.1,"f":-52.6,"g":-52.6,"h":-51.4,"i":-51.5,"j":-52.5,"k":-51.4},
{"x":4.15,"a":-52.2,"b":-51.6,"c":-52.2,"d":-52.4,"e":-52.5,"f":-51.8,"g":-51.5,"h":-52.7,"i":-52.4,"j":-51.4,"k":-52.6},
{"x":4.2,"a":-51.7,"b":-52.5,"c":-51.5,"d":-51.2,"e":-51.6,"f":-52.4,"g":-52.3,"h":-51.6,"i":-51.3,"j":-52.7,"k":-51.5},
{"x":4.25,"a":-52.6,"b":-51.3,"c":-52.6,"d":-52.5,"e":-52.4,"f":-51.4,"g":-51.4,"h":-52.3,"i":-52.6,"j":-51.6,"k":-52.3},
{"x":4.3,"a":-51.4,"b":-52.2,"c":-51.3,"d":-51.8,"e":-51.3,"f":-52.5,"g":-52.7,"h":-51.5,"i":-51.7,"j":-52.3,"k":-51.7},
{"x":4.35,"a":-52.3,"b":-51.5,"c":-52.1,"d":-51.6,"e":-52.2,"f":-51.3,"g":-51.6,"h":-52.4,"i":-51.2,"j":-51.9,"k":-52.4},
{"x":4.4,"a":-51.5,"b":-52.3,"c":-51.0,"d":-52.4,"e":-51.5,"f":-49.3,"g":-52.2,"h":-51.6,"i":-52.3,"j":-51.3,"k":-51.5},
{"x":4.45,"a":-50.3,"b":-51.0,"c":-47.4,"d":-50.6,"e":-48.9,"f":-45.6,"g":-49.7,"h":-49.0,"i":-51.6,"j":-49.3,"k":-51.9},
{"x":4.5,"a":-48.2,"b":-47.0,"c":-44.1,"d":-47.5,"e":-46.2,"f":-44.1,"g":-47.2,"h":-46.3,"i":-48.4,"j":-48.0,"k":-49.0},
{"x":4.55,"a":-48.5,"b":-45.5,"c":-43.8,"d":-46.0,"e":-46.5,"f":-45.6,"g":-47.5,"h":-46.6,"i":-45.7,"j":-49.3,"k":-50.6},
{"x":4.6,"a":-51.0,"b":-47.0,"c":-46.5,"d":-47.5,"e":-49.8,"f":-49.3,"g":-50.2,"h":-49.6,"i":-46.0,"j":-51.5,"k":-52.0},
{"x":4.65,"a":-52.4,"b":-51.5,"c":-50.5,"d":-50.8,"e":-51.9,"f":-52.0,"g":-51.4,"h":-52.1,"i":-49.3,"j":-52.6,"k":-51.4},
{"x":4.7,"a":-51.6,"b":-52.4,"c":-52.3,"d":-51.7,"e":-52.6,"f":-51.2,"g":-52.5,"h":-51.4,"i":-51.6,"j":-51.5,"k":-52.3},
{"x":4.75,"a":-52.5,"b":-51.3,"c":-51.5,"d":-52.6,"e":-51.4,"f":-52.4,"g":-51.5,"h":-52.6,"i":-52.5,"j":-52.4,"k":-51.6},
{"x":4.8,"a":-51.3,"b":-52.6,"c":-52.7,"d":-51.4,"e":-52.5,"f":-51.5,"g":-52.6,"h":-51.3,"i":-51.3,"j":-51.6,"k":-52.7},
{"x":4.85,"a":-52.7,"b":-51.7,"c":-51.4,"d":-52.3,"e":-51.6,"f":-52.6,"g":-51.3,"h":-52.5,"i":-52.4,"j":-52.5,"k":-51.4},
{"x":4.9,"a":-51.5,"b":-52.5,"c":-52.6,"d":-51.5,"e":-52.7,"f":-51.4,"g":-52.4,"h":-51.7,"i":-51.5,"j":-51.3,"k":-52.6},
{"x":4.95,"a":-52.4,"b":-51.4,"c":-51.6,"d":-52.7,"e":-51.3,"f":-52.7,"g":-51.7,"h":-52.3,"i":-52.7,"j":-52.6,"k":-51.5},
{"x":5,"a":-51.8,"b":-52.3,"c":-52.4,"d":-51.6,"e":-52.4,"f":-51.6,"g":-52.2,"h":-51.5,"i":-51.4,"j":-51.8,"k":-52.3}
]},
"layer":[
{"transform":[{"fold":["a","b","c","d","e","f","g","h","i","j","k"],"as":["s","y"]}],
 "mark":{"type":"line","strokeWidth":1.8},
 "encoding":{
  "x":{"field":"x","type":"quantitative","scale":{"domain":[-6,6],"nice":false,"zero":false},
   "axis":{"orient":"top","values":[-6,-4,-2,0,2,4,6],"labelExpr":"'' + datum.value","grid":true,"gridColor":"#808080","gridOpacity":1,"gridWidth":1,"domain":false,"ticks":false,"tickSize":0,"labelPadding":13,"labelFontSize":15,"labelFlush":false,"labelOverlap":false,"title":null}},
  "y":{"field":"y","type":"quantitative","scale":{"domain":[-60,20],"nice":false,"zero":false},
   "axis":{"orient":"right","values":[-60,-50,-40,-30,-20,-10,0,10,20],"labelExpr":"'' + datum.value","grid":true,"gridColor":{"condition":{"test":"datum.value === -60 || datum.value === 20","value":"#808080"},"value":"black"},"gridOpacity":1,"gridWidth":1,"domain":true,"domainColor":"black","domainWidth":1,"ticks":true,"tickColor":"black","tickSize":5,"tickWidth":1,"labelPadding":15,"labelAlign":"center","labelBaseline":"middle","labelFontSize":15,"labelFlush":false,"labelOverlap":false,"title":"corrected Spectrum analyzer trace (dBm)","titleFontSize":14,"titleFontWeight":"bold","titleAngle":270,"titleBaseline":"top","titlePadding":18}},
  "color":{"field":"s","type":"nominal",
   "scale":{"domain":["a","b","c","d","e","f","g","h","i","j","k","l","m","n","o","p","q","r","s","t","u","v","w","x","y","z","zz"],
    "range":["#000080","#FF00FF","#00FF00","#00FFFF","#800080","#800000","#008080","#0000FF","#00CCFF","#CCFFFF","#CCFFCC","#FFFF99","#99CCFF","#FF99CC","#CC99FF","#FFCC99","#3366FF","#33CCCC","#99CC00","#FFCC00","#FF9900","#FF6600","#666699","#969696","#003366","#339966","#003300"]},
   "legend":{"orient":"none","legendX":745.3,"legendY":-111.5,"title":null,"symbolType":"stroke","symbolSize":1681,"symbolStrokeWidth":1.3,"symbolOffset":12.5,"labelFontSize":16,"labelFont":"Liberation Sans","labelColor":"black","labelOffset":16.5,"rowPadding":8.1,"clipHeight":16,"padding":5,"strokeColor":"black","fillColor":"white","labelLimit":300,
    "labelExpr":"(['FC=100.000000','FC=180.000000','FC=259.999999','FC=339.999999','FC=419.999999','FC=499.999999','FC=579.999999','FC=659.999998','FC=739.999998','FC=819.999998','FC=899.999998'][indexof(['a','b','c','d','e','f','g','h','i','j','k'],datum.value)] || '') + (datum.value === 'a' ? '\u00a0\u00a0' : '')",
    "encode":{"symbols":{"update":{"strokeWidth":{"signal":"datum.value > 'k' ? 2.2 : 1.3"}}}}}}
 }},
{"mark":{"type":"point","opacity":0,"size":0},
 "encoding":{"x":{"field":"x","type":"quantitative","axis":{"orient":"bottom","labels":false,"ticks":false,"domain":false,"grid":false,"title":"Frequency offset from center (MHz)","titleFontSize":14,"titleFontWeight":"bold","titlePadding":23}}}}
]
}
